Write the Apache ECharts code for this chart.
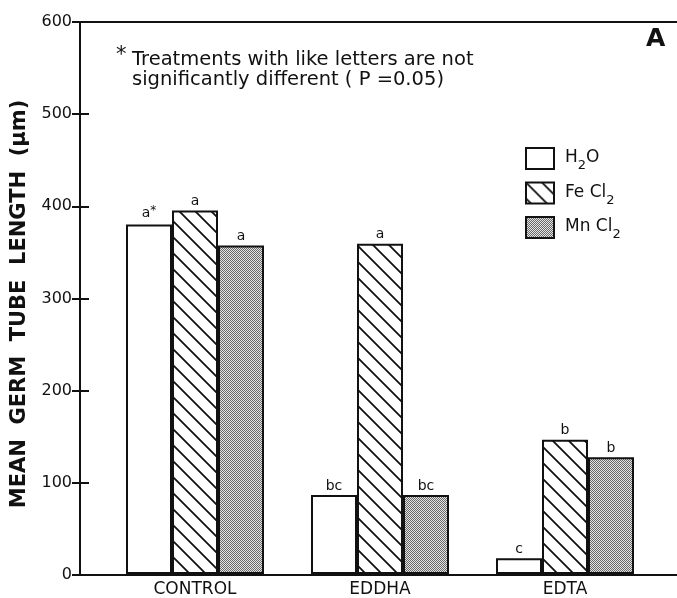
<!DOCTYPE html>
<html>
<head>
<meta charset="utf-8">
<script src="https://cdn.jsdelivr.net/npm/echarts@6/dist/echarts.min.js"></script>
<style>html,body{margin:0;padding:0;background:#fff}#c{width:677px;height:598px}</style>
</head>
<body>
<div id="c"></div>
<script>
const categories = ['CONTROL', 'EDDHA', 'EDTA'];
const h2oValues = [380, 86, 17];
const fecl2Values = [395, 359, 146];
const mncl2Values = [357, 86, 127];
const h2oLetters = ['a*', 'bc', 'c'];
const fecl2Letters = ['a', 'a', 'b'];
const mncl2Letters = ['a', 'bc', 'b'];
const yTicks = [0, 100, 200, 300, 400, 500, 600];

function hatchPattern() {
  const c = document.createElement('canvas');
  c.width = 16; c.height = 16;
  const g = c.getContext('2d');
  g.fillStyle = '#fff'; g.fillRect(0, 0, 16, 16);
  g.strokeStyle = '#111'; g.lineWidth = 1.8;
  g.beginPath();
  for (let k = -1; k <= 1; k++) {
    g.moveTo(k * 16 - 4, -4);
    g.lineTo(k * 16 + 20, 20);
  }
  g.stroke();
  return c;
}
function stipplePattern() {
  const c = document.createElement('canvas');
  c.width = 2; c.height = 2;
  const g = c.getContext('2d');
  g.fillStyle = '#e4e4e4'; g.fillRect(0, 0, 2, 2);
  g.fillStyle = '#6a6a6a'; g.fillRect(0, 0, 1, 1); g.fillRect(1, 1, 1, 1);
  return c;
}

const font = 'DejaVu Sans';
const chart = echarts.init(document.getElementById('c'));

function letterLabel(letters) {
  return {
    show: true, position: 'top', distance: 2,
    fontFamily: font, fontSize: 14, color: '#111',
    formatter: p => {
      const t = letters[p.dataIndex];
      if (t.endsWith('*')) return t.slice(0, -1) + '{sup|*}';
      return t;
    },
    rich: { sup: { fontFamily: font, fontSize: 12, color: '#111', verticalAlign: 'top', padding: [0, 0, 6, 0] } }
  };
}

const legendNames = {
  'H2O': '{f|H}{s|2}{t|O}',
  'FeCl2': '{f|Fe Cl}{s|2}',
  'MnCl2': '{f|Mn Cl}{s|2}'
};

const option = {
  backgroundColor: '#fff',
  animation: false,
  grid: [
    { left: 80, right: 0, top: 22, bottom: 23, containLabel: false },
    { left: 102.5, right: 19.5, top: 22, bottom: 23, containLabel: false }
  ],
  xAxis: [
    { gridIndex: 0, type: 'value', min: 0, max: 1, position: 'bottom',
      axisLine: { show: true, onZero: false, lineStyle: { color: '#111', width: 2 } },
      axisTick: { show: false }, axisLabel: { show: false }, splitLine: { show: false } },
    { gridIndex: 0, type: 'value', min: 0, max: 1, position: 'top',
      axisLine: { show: true, onZero: false, lineStyle: { color: '#111', width: 2 } },
      axisTick: { show: false }, axisLabel: { show: false }, splitLine: { show: false } },
    { gridIndex: 1, type: 'category', data: categories,
      axisLine: { show: false }, axisTick: { show: false },
      axisLabel: { show: true, margin: 7, fontFamily: font, fontSize: 17, color: '#111' } }
  ],
  yAxis: [
    { gridIndex: 0, type: 'value', min: 0, max: 600, interval: 100, position: 'left',
      axisLine: { show: true, onZero: false, lineStyle: { color: '#111', width: 2 } },
      axisTick: { show: true, inside: true, length: 9, lineStyle: { color: '#111', width: 2 } },
      axisLabel: { show: true, margin: 8, fontFamily: font, fontSize: 16, color: '#111',
        formatter: v => yTicks.includes(v) ? String(v) : '' },
      splitLine: { show: false } },
    { gridIndex: 0, type: 'value', min: 0, max: 600, interval: 100, position: 'right',
      axisLine: { show: false },
      axisTick: { show: true, inside: true, length: 8, lineStyle: { color: '#111', width: 2 } },
      axisLabel: { show: false }, splitLine: { show: false } },
    { gridIndex: 1, type: 'value', min: 0, max: 600, show: false }
  ],
  legend: {
    orient: 'vertical', left: 520, top: 142, itemWidth: 28, itemHeight: 21, itemGap: 9,
    icon: 'rect', selectedMode: false,
    data: ['H2O', 'FeCl2', 'MnCl2'],
    formatter: n => legendNames[n],
    textStyle: {
      color: '#111',
      rich: {
        f: { fontFamily: font, fontSize: 17, color: '#111', padding: [0, 0, 0, 6], lineHeight: 18, verticalAlign: 'top' },
        t: { fontFamily: font, fontSize: 17, color: '#111', lineHeight: 18, verticalAlign: 'top' },
        s: { fontFamily: font, fontSize: 13, color: '#111', lineHeight: 12, padding: [10, 0, 0, 0], verticalAlign: 'top' }
      }
    }
  },
  series: [
    { name: 'H2O', type: 'bar', xAxisIndex: 2, yAxisIndex: 2, data: h2oValues,
      barWidth: 46, barGap: '0%',
      itemStyle: { color: '#fff', borderColor: '#111', borderWidth: 2 },
      label: letterLabel(h2oLetters) },
    { name: 'FeCl2', type: 'bar', xAxisIndex: 2, yAxisIndex: 2, data: fecl2Values,
      barWidth: 46, barGap: '0%',
      itemStyle: { color: { image: hatchPattern(), repeat: 'repeat' }, borderColor: '#111', borderWidth: 2 },
      label: letterLabel(fecl2Letters) },
    { name: 'MnCl2', type: 'bar', xAxisIndex: 2, yAxisIndex: 2, data: mncl2Values,
      barWidth: 46, barGap: '0%',
      itemStyle: { color: { image: stipplePattern(), repeat: 'repeat' }, borderColor: '#111', borderWidth: 2 },
      label: letterLabel(mncl2Letters) }
  ],
  graphic: [
    { type: 'text', left: 116, top: 45, style: { text: '*', fontFamily: font, fontSize: 21, fill: '#111' } },
    { type: 'text', left: 132, top: 50, style: { text: 'Treatments with like letters are not', fontFamily: font, fontSize: 19.5, fill: '#111' } },
    { type: 'text', left: 132, top: 70, style: { text: 'significantly different ( P =0.05)', fontFamily: font, fontSize: 19.5, fill: '#111' } },
    { type: 'text', left: 646, top: 27, style: { text: 'A', fontFamily: font, fontSize: 25, fontWeight: 'bold', fill: '#111' } },
    { type: 'text', x: 19.5, y: 304, rotation: Math.PI / 2,
      style: { text: 'MEAN  GERM  TUBE  LENGTH  (μm)', fontFamily: font, fontSize: 21, fontWeight: 'bold', fill: '#111', align: 'center', verticalAlign: 'middle' } }
  ]
};
chart.setOption(option);
</script>
</body>
</html>
